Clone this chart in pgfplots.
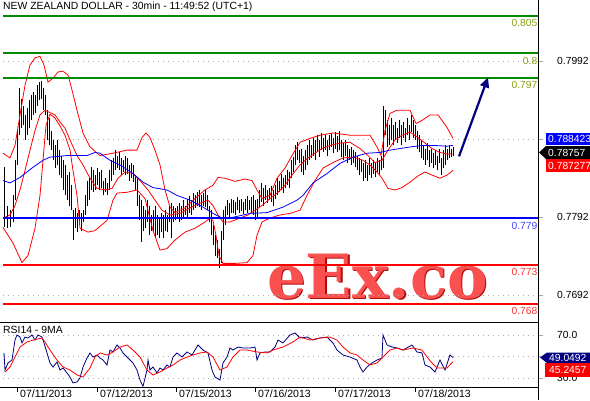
\documentclass[border=0pt]{standalone}
\usepackage{pgfplots}
\pgfplotsset{compat=1.18}
\usepackage{pgfplotstable}
\usepackage{fontspec}
\setmainfont{Liberation Sans}
\newfontfamily\wmfont{DejaVu Serif}
\usetikzlibrary{arrows.meta}

\definecolor{lvgreen}{RGB}{0,140,0}
\definecolor{lvolive}{RGB}{140,160,20}
\definecolor{lvblue}{RGB}{0,0,255}
\definecolor{lvbluelbl}{RGB}{70,70,255}
\definecolor{lvred}{RGB}{255,0,0}
\definecolor{lvredlbl}{RGB}{255,50,50}
\definecolor{navy}{RGB}{0,0,128}
\definecolor{gridgray}{RGB}{170,170,170}
\definecolor{wmred}{RGB}{250,80,80}
\definecolor{wmdark}{RGB}{180,10,10}

\pgfplotstableread{
x hi lo
4 0.7856 0.7779
7 0.7807 0.7778
10 0.7801 0.7780
13 0.7820 0.7786
15 0.7865 0.7814
17 0.7903 0.7859
19 0.7957 0.7897
21 0.7944 0.7906
23 0.7935 0.7910
25 0.7923 0.7891
27 0.7932 0.7897
29 0.7942 0.7906
31 0.7948 0.7916
33 0.7952 0.7923
35 0.7948 0.7926
37 0.7961 0.7935
39 0.7965 0.7942
41 0.7967 0.7944
43 0.7957 0.7929
45 0.7948 0.7923
47 0.7929 0.7891
49 0.7919 0.7884
51 0.7903 0.7878
53 0.7891 0.7865
55 0.7884 0.7855
57 0.7891 0.7859
59 0.7878 0.7846
61 0.7871 0.7842
63 0.7865 0.7827
65 0.7859 0.7820
67 0.7846 0.7814
69 0.7850 0.7807
71 0.7833 0.7801
73 0.7801 0.7763
75 0.7804 0.7778
77 0.7798 0.7773
79 0.7801 0.7782
81 0.7798 0.7775
83 0.7801 0.7786
85 0.7820 0.7795
87 0.7839 0.7807
89 0.7842 0.7814
91 0.7856 0.7827
93 0.7852 0.7824
95 0.7846 0.7827
97 0.7855 0.7833
99 0.7850 0.7827
101 0.7852 0.7829
103 0.7839 0.7820
105 0.7842 0.7824
107 0.7836 0.7820
109 0.7852 0.7827
111 0.7865 0.7839
113 0.7868 0.7846
115 0.7878 0.7852
117 0.7871 0.7855
119 0.7875 0.7852
121 0.7868 0.7846
123 0.7865 0.7850
125 0.7871 0.7846
127 0.7868 0.7848
129 0.7859 0.7839
131 0.7862 0.7842
133 0.7859 0.7837
135 0.7846 0.7827
137 0.7842 0.7807
139 0.7820 0.7788
141 0.7814 0.7760
143 0.7807 0.7775
145 0.7801 0.7778
147 0.7814 0.7786
149 0.7807 0.7769
151 0.7795 0.7775
153 0.7801 0.7773
155 0.7807 0.7765
157 0.7795 0.7769
159 0.7791 0.7766
161 0.7798 0.7773
163 0.7795 0.7765
165 0.7801 0.7775
167 0.7795 0.7773
169 0.7807 0.7786
171 0.7810 0.7765
173 0.7807 0.7786
175 0.7804 0.7788
177 0.7807 0.7791
179 0.7810 0.7786
181 0.7806 0.7788
183 0.7814 0.7791
185 0.7807 0.7795
187 0.7816 0.7792
189 0.7819 0.7798
191 0.7814 0.7795
193 0.7823 0.7801
195 0.7820 0.7804
197 0.7824 0.7806
199 0.7827 0.7805
201 0.7820 0.7801
203 0.7823 0.7807
205 0.7827 0.7805
207 0.7820 0.7801
209 0.7807 0.7786
211 0.7801 0.7769
213 0.7782 0.7756
215 0.7769 0.7743
217 0.7763 0.7740
219 0.7752 0.7727
221 0.7775 0.7734
223 0.7801 0.7763
225 0.7807 0.7782
227 0.7814 0.7795
229 0.7810 0.7791
231 0.7816 0.7798
233 0.7814 0.7797
235 0.7811 0.7795
237 0.7818 0.7801
239 0.7814 0.7797
241 0.7816 0.7800
243 0.7811 0.7796
245 0.7815 0.7801
247 0.7819 0.7798
249 0.7814 0.7801
251 0.7818 0.7798
253 0.7820 0.7795
255 0.7814 0.7788
257 0.7816 0.7793
259 0.7827 0.7805
261 0.7836 0.7811
263 0.7829 0.7807
265 0.7833 0.7814
267 0.7827 0.7810
269 0.7829 0.7814
271 0.7832 0.7811
273 0.7827 0.7807
275 0.7833 0.7816
277 0.7842 0.7820
279 0.7839 0.7824
281 0.7848 0.7827
283 0.7842 0.7823
285 0.7846 0.7829
287 0.7852 0.7833
289 0.7850 0.7829
291 0.7865 0.7842
293 0.7869 0.7850
295 0.7884 0.7859
297 0.7888 0.7865
299 0.7878 0.7861
301 0.7880 0.7850
303 0.7871 0.7846
305 0.7878 0.7852
307 0.7884 0.7859
309 0.7891 0.7865
311 0.7884 0.7868
313 0.7893 0.7871
315 0.7891 0.7865
317 0.7897 0.7875
319 0.7891 0.7869
321 0.7900 0.7878
323 0.7894 0.7875
325 0.7897 0.7878
327 0.7891 0.7871
329 0.7897 0.7878
331 0.7900 0.7882
333 0.7893 0.7874
335 0.7901 0.7880
337 0.7896 0.7875
339 0.7903 0.7878
341 0.7891 0.7869
343 0.7887 0.7865
345 0.7891 0.7871
347 0.7884 0.7862
349 0.7880 0.7865
351 0.7882 0.7859
353 0.7878 0.7862
355 0.7875 0.7856
357 0.7871 0.7852
359 0.7868 0.7846
361 0.7865 0.7850
363 0.7862 0.7839
365 0.7865 0.7842
367 0.7859 0.7838
369 0.7868 0.7846
371 0.7862 0.7842
373 0.7865 0.7847
375 0.7861 0.7843
377 0.7868 0.7850
379 0.7865 0.7846
381 0.7871 0.7852
383 0.7935 0.7855
385 0.7929 0.7897
387 0.7916 0.7882
389 0.7910 0.7884
391 0.7919 0.7891
393 0.7910 0.7884
395 0.7914 0.7891
397 0.7906 0.7887
399 0.7916 0.7893
401 0.7910 0.7884
403 0.7914 0.7893
405 0.7906 0.7888
407 0.7919 0.7897
409 0.7910 0.7891
411 0.7923 0.7901
413 0.7916 0.7894
415 0.7910 0.7891
417 0.7903 0.7880
419 0.7897 0.7875
421 0.7891 0.7868
423 0.7884 0.7865
425 0.7880 0.7859
427 0.7887 0.7865
429 0.7878 0.7857
431 0.7880 0.7862
433 0.7874 0.7855
435 0.7878 0.7859
437 0.7871 0.7852
439 0.7880 0.7862
441 0.7868 0.7846
443 0.7878 0.7855
445 0.7884 0.7859
447 0.7880 0.7865
449 0.7884 0.7868
451 0.7880 0.7869
453 0.7882 0.7870
}\bars

\begin{document}
\begin{tikzpicture}
\useasboundingbox (0pt,0pt) rectangle (590pt,400pt);

% watermark
\node[anchor=base west, inner sep=0pt, text=wmdark] at (268.5pt,100.5pt) {\wmfont\bfseries\fontsize{61}{68}\selectfont eEx.co};
\node[anchor=base west, inner sep=0pt, text=wmred] at (267pt,102pt) {\wmfont\bfseries\fontsize{61}{68}\selectfont eEx.co};

% ---------- main price panel ----------
\begin{axis}[
  at={(3pt,78pt)}, anchor=south west, scale only axis,
  width=535pt, height=322pt,
  xmin=3, xmax=538, ymin=0.76580, ymax=0.80701,
  axis line style={draw=none}, clip=false,
  xtick=\empty,
  ytick={0.7692,0.7792,0.7892,0.7992},
  yticklabels={0.7692,0.7792,{},0.7992},
  ytick pos=right, yticklabel pos=right,
  tick align=outside, major tick length=5pt,
  ytick style={draw=gray!70, line width=0.8pt},
  ymajorgrids, grid style={gridgray, dash pattern=on 1pt off 4pt, line width=0.8pt},
  yticklabel style={font=\fontsize{10.3}{12}\selectfont, anchor=west, inner sep=0pt, xshift=14pt},
]
% OHLC high-low bars
\addplot[black, line width=0.95pt, quiver={u=0, v=\thisrow{hi}-\thisrow{lo}}] table[x=x, y=lo] {\bars};
% Bollinger bands
\addplot[lvred, line width=0.8pt] coordinates {
(3,0.7874)(10,0.7868)(15,0.7884)(20,0.7923)(25,0.7961)(30,0.7987)(35,0.7996)(40,0.7998)(44,0.7987)(48,0.7965)(53,0.7970)(58,0.7978)(63,0.7979)(68,0.7974)(72,0.7955)(77,0.7929)(83,0.7900)(90,0.7882)(100,0.7871)(113,0.7874)(127,0.7878)(137,0.7878)(142,0.7894)(146,0.7900)(150,0.7894)(155,0.7878)(160,0.7859)(165,0.7827)(170,0.7805)(175,0.7798)(185,0.7804)(195,0.7816)(205,0.7827)(213,0.7833)(218,0.7843)(225,0.7842)(235,0.7838)(245,0.7841)(252,0.7839)(257,0.7827)(262,0.7816)(270,0.7820)(277,0.7842)(285,0.7855)(292,0.7871)(300,0.7888)(310,0.7893)(320,0.7897)(333,0.7900)(350,0.7897)(370,0.7897)(377,0.7882)(381,0.7871)(385,0.7903)(390,0.7925)(397,0.7929)(410,0.7929)(416,0.7912)(422,0.7916)(430,0.7923)(438,0.7923)(447,0.7907)(453,0.7893)};
\addplot[lvred, line width=0.8pt] coordinates {
(3,0.7791)(10,0.7795)(15,0.7807)(20,0.7827)(25,0.7852)(30,0.7878)(35,0.7903)(40,0.7923)(45,0.7929)(50,0.7926)(55,0.7923)(60,0.7914)(65,0.7906)(70,0.7891)(77,0.7871)(83,0.7859)(90,0.7842)(97,0.7829)(105,0.7827)(112,0.7829)(118,0.7842)(125,0.7850)(133,0.7848)(140,0.7839)(148,0.7827)(155,0.7814)(162,0.7801)(170,0.7795)(180,0.7797)(190,0.7804)(200,0.7810)(208,0.7814)(213,0.7807)(218,0.7795)(223,0.7786)(230,0.7786)(240,0.7791)(248,0.7795)(255,0.7801)(262,0.7807)(270,0.7816)(278,0.7824)(285,0.7833)(292,0.7846)(300,0.7859)(308,0.7868)(315,0.7874)(322,0.7880)(330,0.7884)(340,0.7887)(350,0.7888)(360,0.7880)(368,0.7871)(375,0.7862)(382,0.7865)(388,0.7878)(395,0.7891)(402,0.7897)(410,0.7901)(418,0.7894)(425,0.7887)(432,0.7880)(440,0.7875)(447,0.7873)(453,0.7873)};
\addplot[lvred, line width=0.8pt] coordinates {
(3,0.7779)(13,0.7759)(22,0.7734)(28,0.7743)(35,0.7778)(40,0.7820)(43,0.7865)(46,0.7910)(50,0.7924)(55,0.7919)(60,0.7909)(65,0.7897)(70,0.7878)(73,0.7852)(77,0.7820)(80,0.7778)(88,0.7773)(95,0.7775)(107,0.7788)(113,0.7814)(117,0.7823)(127,0.7824)(137,0.7827)(145,0.7816)(153,0.7775)(160,0.7750)(167,0.7752)(175,0.7763)(185,0.7773)(195,0.7778)(205,0.7786)(210,0.7791)(213,0.7788)(216,0.7769)(219,0.7743)(223,0.7733)(235,0.7733)(247,0.7734)(253,0.7743)(257,0.7769)(262,0.7786)(270,0.7791)(280,0.7795)(290,0.7797)(300,0.7801)(307,0.7820)(315,0.7839)(323,0.7855)(333,0.7862)(343,0.7868)(353,0.7869)(363,0.7865)(370,0.7859)(377,0.7850)(382,0.7842)(388,0.7829)(395,0.7827)(402,0.7830)(410,0.7837)(418,0.7845)(425,0.7850)(432,0.7846)(440,0.7842)(447,0.7846)(453,0.7852)};
% moving average
\addplot[lvblue, line width=0.8pt] coordinates {
(3,0.7839)(10,0.7836)(20,0.7843)(33,0.7856)(43,0.7865)(50,0.7869)(67,0.7871)(87,0.7871)(95,0.7875)(100,0.7874)(110,0.7865)(120,0.7859)(133,0.7848)(143,0.7837)(153,0.7830)(167,0.7827)(177,0.7820)(190,0.7814)(203,0.7805)(213,0.7797)(222,0.7791)(233,0.7792)(250,0.7797)(267,0.7798)(283,0.7805)(297,0.7814)(303,0.7820)(313,0.7836)(327,0.7848)(340,0.7861)(353,0.7869)(367,0.7874)(380,0.7875)(390,0.7878)(400,0.7880)(410,0.7882)(423,0.7884)(433,0.7884)(447,0.7883)(453,0.7884)};
% horizontal levels
\addplot[lvgreen, line width=2pt] coordinates {(3,0.8050) (538,0.8050)};
\addplot[lvgreen, line width=2pt] coordinates {(3,0.8002) (538,0.8002)};
\addplot[lvgreen, line width=2pt] coordinates {(3,0.7970) (538,0.7970)};
\addplot[lvblue, line width=2.6pt] coordinates {(3,0.7791) (538,0.7791)};
\addplot[lvred, line width=2.4pt] coordinates {(3,0.7731) (538,0.7731)};
\addplot[lvred, line width=2.4pt] coordinates {(3,0.7681) (538,0.7681)};
\node[anchor=east, inner sep=0pt, text=lvolive, font=\fontsize{10.3}{12}\selectfont] at (axis cs:537.5,0.8050) [yshift=-7pt] {0.805};
\node[anchor=east, inner sep=0pt, text=lvolive, font=\fontsize{10.3}{12}\selectfont] at (axis cs:537.5,0.8002) [yshift=-7.5pt] {0.8};
\node[anchor=east, inner sep=0pt, text=lvolive, font=\fontsize{10.3}{12}\selectfont] at (axis cs:537.5,0.7970) [yshift=-7pt] {0.797};
\node[anchor=east, inner sep=0pt, text=lvbluelbl, font=\fontsize{10.3}{12}\selectfont] at (axis cs:537.5,0.7791) [yshift=-8pt] {0.779};
\node[anchor=east, inner sep=0pt, text=lvredlbl, font=\fontsize{10.3}{12}\selectfont] at (axis cs:537.5,0.7731) [yshift=-7pt] {0.773};
\node[anchor=east, inner sep=0pt, text=lvredlbl, font=\fontsize{10.3}{12}\selectfont] at (axis cs:537.5,0.7681) [yshift=-7pt] {0.768};
% forecast arrow
\addplot[navy, line width=2.2pt, -{Triangle[length=10pt,width=9pt]}] coordinates {(459,0.7870) (488,0.7971)};
\end{axis}

% ---------- RSI panel ----------
\begin{axis}[
  at={(3pt,13pt)}, anchor=south west, scale only axis,
  width=535pt, height=65pt,
  xmin=3, xmax=538, ymin=21.6, ymax=82.1,
  axis line style={draw=none}, clip=false,
  xtick={17,97,176,255,335,415},
  xticklabels={07/11/2013,07/12/2013,07/15/2013,07/16/2013,07/17/2013,07/18/2013},
  xtick pos=left,
  ytick={30,50,70}, yticklabels={30.0,{},70.0},
  ytick pos=right, yticklabel pos=right,
  tick align=outside, major tick length=5pt,
  ytick style={draw=gray!70, line width=0.8pt},
  xtick style={draw=black, line width=0.8pt},
  ymajorgrids, grid style={gridgray, dash pattern=on 1pt off 4pt, line width=0.8pt},
  yticklabel style={font=\fontsize{10.3}{12}\selectfont, anchor=west, inner sep=0pt, xshift=14pt},
  xticklabel style={font=\fontsize{10.5}{12}\selectfont, anchor=north west, inner sep=0pt, xshift=3pt, yshift=2.5pt},
]
\addplot[navy, line width=0.8pt] coordinates {
(4,53.3)(5,37.4)(8,44.0)(12,46.7)(15,65.3)(17,70.0)(20,68.1)(22,62.6)(25,68.1)(28,67.2)(32,70.0)(35,65.3)(38,70.0)(42,68.1)(44,62.6)(47,53.3)(50,44.0)(53,40.2)(57,44.9)(60,37.4)(63,39.3)(67,34.7)(70,30.9)(73,25.4)(77,26.3)(80,30.0)(83,40.2)(87,48.6)(90,53.3)(93,49.5)(97,51.4)(100,48.6)(103,46.7)(107,42.1)(110,56.0)(113,54.2)(117,60.7)(120,57.9)(123,53.3)(127,49.5)(130,46.7)(133,44.0)(137,37.4)(140,28.1)(143,22.2)(147,37.4)(148,46.7)(150,37.4)(153,40.2)(157,34.7)(160,39.3)(163,37.4)(167,42.1)(170,40.2)(173,49.5)(177,53.3)(182,49.5)(187,54.2)(192,51.4)(198,60.7)(203,56.0)(208,53.3)(212,37.4)(215,30.9)(220,28.1)(223,44.0)(227,49.5)(230,57.9)(233,56.0)(238,58.8)(243,57.9)(250,57.9)(255,58.8)(257,46.7)(260,53.3)(265,54.2)(270,54.2)(275,58.8)(278,65.3)(283,62.6)(290,70.0)(295,71.9)(300,67.2)(307,68.1)(313,65.3)(320,67.2)(327,68.1)(333,62.6)(337,56.0)(343,51.4)(350,49.5)(357,46.7)(360,40.2)(363,35.6)(367,40.2)(372,44.0)(377,46.7)(382,48.6)(383,70.0)(387,60.7)(392,58.8)(397,57.9)(403,56.0)(412,60.7)(417,54.2)(422,53.3)(425,42.1)(430,40.2)(435,35.6)(440,46.7)(445,37.4)(450,51.4)(453,49.0)};
\addplot[lvred, line width=0.8pt] coordinates {
(5,35.6)(10,40.2)(15,49.5)(20,58.8)(27,63.5)(33,65.3)(42,67.2)(45,63.5)(50,56.0)(57,46.7)(63,40.2)(70,37.4)(77,32.8)(83,30.9)(90,39.3)(95,49.5)(100,53.3)(107,51.4)(113,54.2)(120,58.8)(127,60.7)(133,56.0)(140,49.5)(147,37.4)(153,32.8)(160,35.6)(167,39.3)(173,42.1)(180,46.7)(187,49.5)(193,51.4)(200,53.3)(207,54.2)(213,49.5)(220,37.4)(227,40.2)(233,49.5)(240,56.0)(247,56.0)(257,54.2)(267,53.3)(273,56.0)(283,58.8)(293,63.5)(300,68.1)(310,65.3)(320,67.2)(330,68.1)(337,65.3)(343,58.8)(350,53.3)(357,51.4)(363,46.7)(370,42.1)(377,44.0)(383,49.5)(390,56.0)(397,57.9)(403,56.0)(413,57.9)(422,56.0)(427,49.5)(432,44.0)(437,39.3)(447,39.3)(453,45.2)};
\end{axis}

% panel frame lines
\draw[black, line width=1pt] (0pt,78pt) -- (538pt,78pt);
\draw[black, line width=1pt] (0pt,13pt) -- (538pt,13pt);
\draw[black, line width=1pt] (538pt,0pt) -- (538pt,400pt);

% titles
\node[anchor=base west, inner sep=0pt, font=\fontsize{10.4}{12}\selectfont] at (3pt,390pt) {NEW ZEALAND DOLLAR - 30min - 11:49:52 (UTC+1)};
\node[anchor=base west, inner sep=0pt, font=\fontsize{10.4}{12}\selectfont] at (3pt,67pt) {RSI14 - 9MA};

% last-value boxes, price panel
\fill[lvblue] (546pt,255pt) rectangle (590pt,267pt);
\node[anchor=west, inner sep=0pt, text=white, font=\fontsize{10.3}{12}\selectfont] at (548pt,261pt) {0.788423};
\fill[black] (539pt,247.5pt) -- (546pt,254pt) -- (590pt,254pt) -- (590pt,241pt) -- (546pt,241pt) -- cycle;
\node[anchor=west, inner sep=0pt, text=white, font=\fontsize{10.3}{12}\selectfont] at (548pt,247.5pt) {0.78757};
\fill[lvred] (546pt,228pt) rectangle (590pt,241pt);
\node[anchor=west, inner sep=0pt, text=white, font=\fontsize{10.3}{12}\selectfont] at (548pt,234.5pt) {0.787277};

% last-value boxes, RSI panel
\fill[navy] (540pt,42.5pt) -- (547pt,47.5pt) -- (590pt,47.5pt) -- (590pt,37pt) -- (547pt,37pt) -- cycle;
\node[anchor=west, inner sep=0pt, text=white, font=\fontsize{10.3}{12}\selectfont] at (549pt,42.3pt) {49.0492};
\fill[lvred] (545pt,23pt) rectangle (590pt,37pt);
\node[anchor=west, inner sep=0pt, text=white, font=\fontsize{10.3}{12}\selectfont] at (549pt,30pt) {45.2457};
\end{tikzpicture}
\end{document}
